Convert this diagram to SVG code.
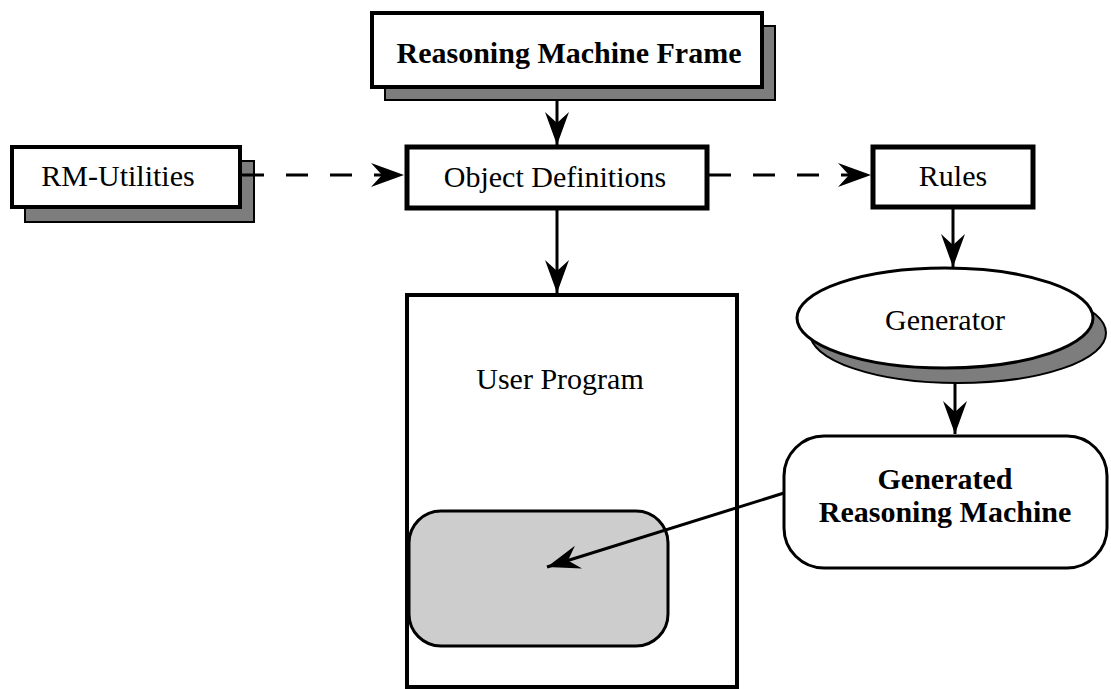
<svg xmlns="http://www.w3.org/2000/svg" width="1111" height="689" viewBox="0 0 1111 689">
<style>
.box{fill:#fff;stroke:#000;stroke-width:4}
.shadow{fill:#7d7d7d;stroke:#000;stroke-width:2}
.t{font-family:"Liberation Serif","Times New Roman",serif;font-size:30px;fill:#000;text-anchor:middle}
.b{font-weight:bold}
.line{stroke:#000;stroke-width:3;fill:none}
.dash{stroke-dasharray:22 22}
</style>
<defs>
<marker id="arr" markerUnits="userSpaceOnUse" markerWidth="36" markerHeight="28" viewBox="-34 -14 36 28" refX="0" refY="0" orient="auto">
<path d="M0,0 L-33,-12 L-22,0 L-33,12 Z" fill="#000"/>
</marker>
</defs>
<rect width="1111" height="689" fill="#fff"/>
<g id="frame">
<rect class="shadow" x="385" y="26" width="390" height="74"/>
<rect class="box" x="372" y="13" width="390" height="74"/>
<text class="t b" x="569" y="63">Reasoning Machine Frame</text>
</g>
<g id="rmutil">
<rect class="shadow" x="25" y="161" width="229" height="61"/>
<rect class="box" x="12" y="147" width="228" height="60"/>
<text class="t" x="118" y="186">RM-Utilities</text>
</g>
<g id="objdef">
<rect class="box" x="407" y="147" width="300" height="61" style="stroke-width:5"/>
<text class="t" x="555" y="187">Object Definitions</text>
</g>
<g id="rules">
<rect class="box" x="873" y="147" width="160" height="60" style="stroke-width:5"/>
<text class="t" x="953" y="186">Rules</text>
</g>
<g id="userprog">
<rect class="box" x="407" y="295" width="330" height="392"/>
<text class="t" x="560" y="389">User Program</text>
</g>
<g id="inner">
<rect x="409" y="511" width="259" height="135" rx="32" fill="#cdcdcd" stroke="#000" stroke-width="3"/>
</g>
<g id="generator">
<ellipse cx="958" cy="333" rx="148" ry="50" class="shadow"/>
<ellipse cx="945" cy="318" rx="148" ry="50" fill="#fff" stroke="#000" stroke-width="3"/>
<text class="t" x="945" y="330">Generator</text>
</g>
<g id="grm">
<rect class="box" x="784" y="436" width="323" height="132" rx="40" style="stroke-width:3"/>
<text class="t b" x="945" y="489">Generated</text>
<text class="t b" x="945" y="522">Reasoning Machine</text>
</g>
<g id="connectors">
<line class="line" x1="557" y1="100" x2="557" y2="145" marker-end="url(#arr)"/>
<line class="line dash" x1="242" y1="175" x2="404" y2="175" marker-end="url(#arr)"/>
<line class="line dash" x1="709" y1="175" x2="871" y2="175" marker-end="url(#arr)"/>
<line class="line" x1="557" y1="210" x2="557" y2="293" marker-end="url(#arr)"/>
<line class="line" x1="953" y1="208" x2="953" y2="267" marker-end="url(#arr)"/>
<line class="line" x1="955" y1="383" x2="955" y2="434" marker-end="url(#arr)"/>
<line class="line" x1="784" y1="493" x2="547" y2="567" marker-end="url(#arr)"/>
</g>
</svg>
